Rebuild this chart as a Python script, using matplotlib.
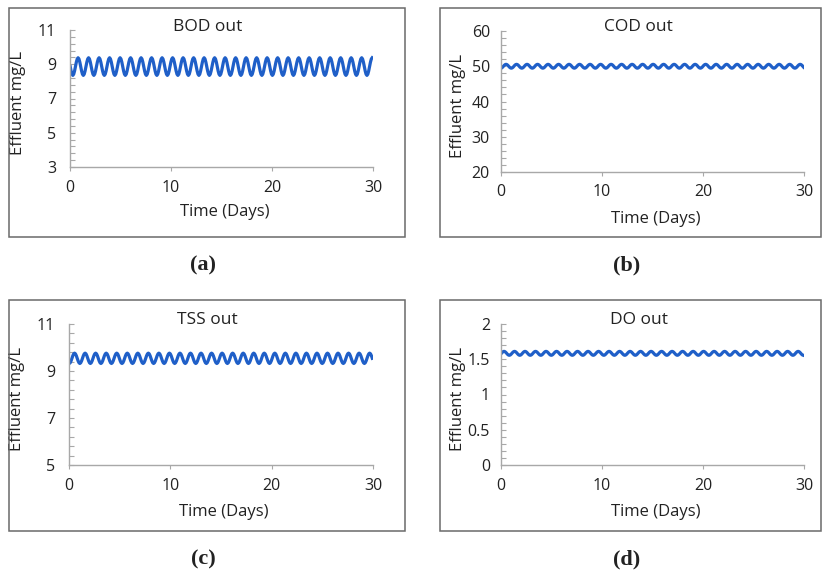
import numpy as np
import matplotlib.pyplot as plt
from matplotlib.ticker import MultipleLocator, FuncFormatter
from matplotlib.patches import Rectangle

plt.rcParams['font.family'] = ['Open Sans', 'DejaVu Sans']

# one daily cycle of each effluent reading (peak first), repeated over the run
CYCLE_DAYS = 1.04
N_DAYS = 30

bod_cycle = [9.38, 9.31, 9.12, 8.87, 8.61, 8.42, 8.35, 8.42, 8.61, 8.87, 9.12, 9.31]
cod_cycle = [50.55, 50.47, 50.28, 50.00, 49.72, 49.53, 49.45, 49.53, 49.72, 50.00, 50.28, 50.47]
tss_cycle = [9.76, 9.73, 9.65, 9.54, 9.43, 9.35, 9.32, 9.35, 9.43, 9.54, 9.65, 9.73]
do_cycle = [1.612, 1.608, 1.598, 1.584, 1.570, 1.560, 1.556, 1.560, 1.570, 1.584, 1.598, 1.608]

# day of the first peak for each parameter
first_peak = {'BOD': 0.80, 'COD': 0.50, 'TSS': 0.55, 'DO': 0.30}


def series(cycle, peak_day):
    n = len(cycle)
    reps = int(N_DAYS / CYCLE_DAYS) + 3
    t = peak_day - CYCLE_DAYS + np.arange(reps * n) * CYCLE_DAYS / n
    y = np.tile(cycle, reps)
    keep = (t >= 0) & (t <= N_DAYS)
    return t[keep], y[keep]


panels = [
    # name, data, ylim, major, minor, caption, axes rect (px), box (px), ylabel x, tick pad
    ('BOD', bod_cycle, (3, 11), 2, 0.4, '(a)', (70, 30, 303, 137), (9, 8, 396, 229), -0.172, 10),
    ('COD', cod_cycle, (20, 60), 10, 2, '(b)', (501, 31, 303, 141), (440, 8, 381, 229), -0.142, 8),
    ('TSS', tss_cycle, (5, 11), 2, 0.4, '(c)', (69, 324, 304, 141), (9, 300, 396, 231), -0.172, 10),
    ('DO', do_cycle, (0, 2), 0.5, 0.1, '(d)', (501, 324, 303, 141), (440, 300, 381, 231), -0.142, 8),
]

W, H = 822, 571
fig = plt.figure(figsize=(W / 100, H / 100), dpi=100)
line_color = '#1f5fc8'
spine_color = '#a8a8a8'
text_color = '#222222'

for name, cycle, ylim, major, minor, cap, rect, box, ylab_x, ypad in panels:
    x0, y0, w, h = rect
    ax = fig.add_axes([x0 / W, 1 - (y0 + h) / H, w / W, h / H])
    t, y = series(cycle, first_peak[name])
    ax.plot(t, y, color=line_color, lw=2.3, solid_joinstyle='round')

    ax.set_xlim(0, N_DAYS)
    ax.set_ylim(*ylim)
    ax.xaxis.set_major_locator(MultipleLocator(10))
    ax.yaxis.set_major_locator(MultipleLocator(major, offset=ylim[0]))
    ax.yaxis.set_minor_locator(MultipleLocator(minor, offset=ylim[0]))
    ax.yaxis.set_major_formatter(FuncFormatter(lambda v, p: f'{v:g}'))

    for s in ['top', 'right']:
        ax.spines[s].set_visible(False)
    for s in ['left', 'bottom']:
        ax.spines[s].set_color(spine_color)
        ax.spines[s].set_linewidth(1.0)

    ax.tick_params(axis='y', which='both', direction='in', length=3.5,
                   width=0.8, color=spine_color, pad=ypad, labelsize=11.5,
                   labelcolor=text_color)
    ax.tick_params(axis='x', which='major', direction='out', length=3,
                   width=0.8, color=spine_color, pad=6, labelsize=11.5,
                   labelcolor=text_color)

    ax.text(0.455, 1.025, f'{name} out', transform=ax.transAxes,
            ha='center', va='center', fontsize=12.5, color=text_color)
    ax.text(0.51, -0.33, 'Time (Days)', transform=ax.transAxes,
            ha='center', va='center', fontsize=12, color=text_color)
    ax.text(ylab_x, 0.47, 'Effluent mg/L', transform=ax.transAxes,
            ha='center', va='center', rotation=90, fontsize=12, color=text_color)

    bx, by, bw, bh = box
    fig.patches.append(Rectangle((bx / W, 1 - (by + bh) / H), bw / W, bh / H,
                                 transform=fig.transFigure, fill=False,
                                 edgecolor='#6a6a6a', linewidth=1.1))
    fig.text((bx + bw / 2 - 4) / W, 1 - (by + bh + 28) / H, cap,
             ha='center', va='center', fontsize=16, fontweight='bold',
             family='Liberation Serif', color=text_color)

fig.savefig('out.png', dpi=100)
plt.close(fig)
